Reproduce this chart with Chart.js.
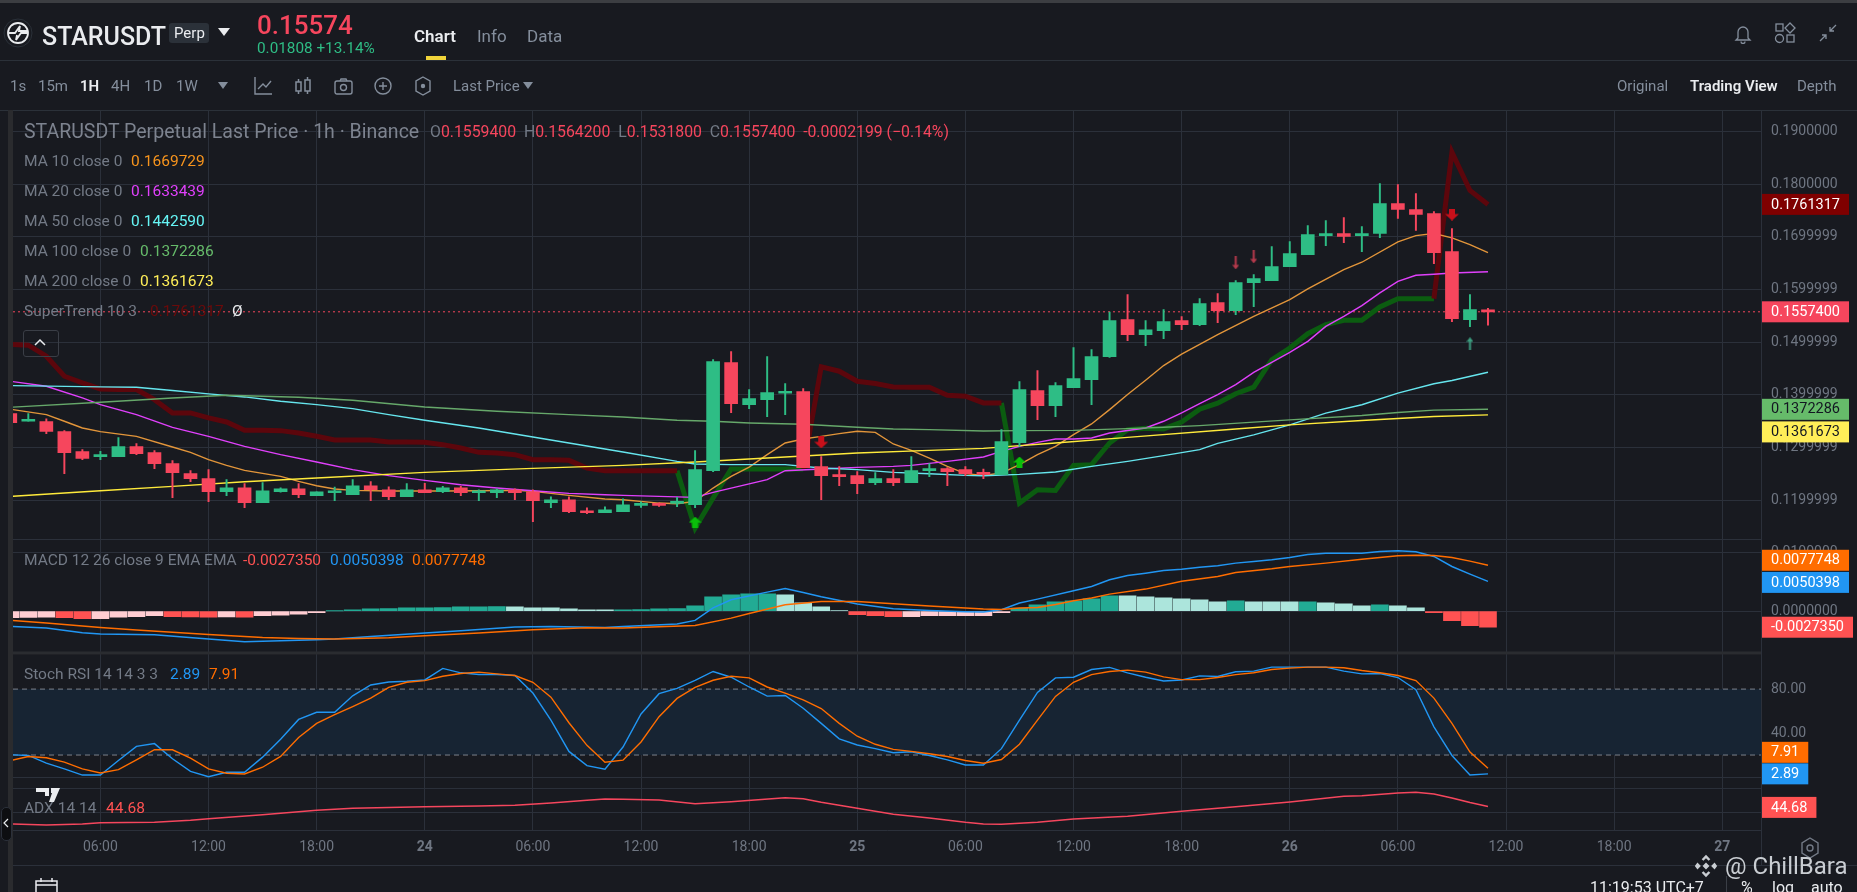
<!DOCTYPE html>
<html>
<head>
<meta charset="utf-8">
<title>STARUSDT Perp</title>
<script src="https://cdn.jsdelivr.net/npm/chart.js@4"></script>
<style>
    html, body { margin: 0; padding: 0; width: 1857px; height: 892px; overflow: hidden; background: #181a20; font-family: Roboto, sans-serif; }
    canvas { position: absolute; left: 0; top: 0; }
    .t { position: absolute; transform: translateY(-50%); white-space: pre; z-index: 3; line-height: 1; }
    .g { color: #848e9c; font-size: 15px; }
    .leg { color: #737a86; font-size: 15.5px; }
    .on { color: #eaecef; font-weight: 600; }
    .line { position: absolute; background: #2b3139; z-index: 1; }
    svg { position: absolute; z-index: 3; }
</style>
</head>
<body>
<canvas id="grafico" width="1857" height="892"></canvas>

<div class="line" style="left:0;top:0;width:1857px;height:3px;background:#3c3e42"></div>
<div class="line" style="left:0;top:60px;width:1857px;height:1px"></div>
<div class="line" style="left:0;top:110px;width:1857px;height:1px"></div>
<div class="line" style="left:8px;top:110px;width:5px;height:782px;background:#2a2b2e"></div>
<div class="line" style="left:13px;top:865px;width:1844px;height:1px;background:#2b303a"></div>
<div class="line" style="left:1761px;top:830px;width:1px;height:35px;background:#2b303a"></div>
<div class="line" style="left:1726px;top:876px;width:1px;height:16px;background:#3a3e46"></div>

<svg style="left:3px;top:18px" width="30" height="30" viewBox="0 0 30 30" fill="none" stroke="#eaecef" stroke-width="1.8"><circle cx="15" cy="15" r="14" stroke="#2b3139" stroke-width="1"/><circle cx="15" cy="15" r="10"/><path d="M6 15h6l5-7-1 5h8M24 15h-6l-5 7 1-5"/></svg>
<div class="t" style="left:42px;top:36px;font-size:25px;font-weight:500;color:#eaecef">STARUSDT</div>
<div class="line" style="left:169px;top:23px;width:40px;height:20px;background:#2b3139;border-radius:3px"></div>
<div class="t" style="left:174px;top:33px;font-size:15px;color:#eaecef">Perp</div>
<svg style="left:218px;top:28px" width="12" height="9"><path d="M0 0h12L6 8z" fill="#eaecef"/></svg>
<div class="t" style="left:257px;top:25px;font-size:26px;font-weight:500;color:#f6465d">0.15574</div>
<div class="t" style="left:257px;top:49px;font-size:15.3px;color:#2ebd85">0.01808 +13.14%</div>
<div class="t on" style="left:414px;top:36px;font-size:17px">Chart</div>
<div class="line" style="left:426px;top:56px;width:20px;height:4px;background:#f0d43a"></div>
<div class="t" style="left:477px;top:36px;font-size:17px;color:#848e9c">Info</div>
<div class="t" style="left:527px;top:36px;font-size:17px;color:#848e9c">Data</div>

<div class="t g" style="left:10px;top:86px">1s</div>
<div class="t g" style="left:38px;top:86px">15m</div>
<div class="t g on" style="left:80px;top:86px">1H</div>
<div class="t g" style="left:111px;top:86px">4H</div>
<div class="t g" style="left:144px;top:86px">1D</div>
<div class="t g" style="left:176px;top:86px">1W</div>
<svg style="left:218px;top:82px" width="10" height="7"><path d="M0 0h10L5 7z" fill="#848e9c"/></svg>
<svg style="left:253px;top:75px" width="20" height="22" fill="none" stroke="#848e9c" stroke-width="1.4"><path d="M2 2v17h17M5 14l5-5 3 3 5-6"/></svg>
<svg style="left:294px;top:76px" width="18" height="20" fill="none" stroke="#848e9c" stroke-width="1.5"><rect x="2" y="6" width="5" height="9"/><rect x="11" y="4" width="5" height="11"/><path d="M4.5 3v3M4.5 15v3M13.5 1v3M13.5 15v3"/></svg>
<svg style="left:334px;top:77px" width="19" height="18" fill="none" stroke="#848e9c" stroke-width="1.4"><rect x="1" y="4" width="17" height="13" rx="2"/><circle cx="9.5" cy="10.5" r="3"/><path d="M6 4l1-2h5l1 2"/></svg>
<svg style="left:374px;top:77px" width="18" height="18" fill="none" stroke="#848e9c" stroke-width="1.4"><circle cx="9" cy="9" r="8"/><path d="M9 5v8M5 9h8"/></svg>
<svg style="left:415px;top:76px" width="16" height="20" fill="none" stroke="#848e9c" stroke-width="1.4"><path d="M8 1l7 4v10l-7 4-7-4V5z"/><circle cx="8" cy="10" r="1.5" fill="#848e9c"/></svg>
<div class="t g" style="left:453px;top:86px">Last Price</div>
<svg style="left:523px;top:82px" width="10" height="7"><path d="M0 0h10L5 7z" fill="#848e9c"/></svg>

<svg style="left:1734px;top:24px" width="18" height="20" fill="none" stroke="#848e9c" stroke-width="1.3"><path d="M4 14V8a5 5 0 0 1 10 0v6l2 2H2zM7 17.500a2 2 0 0 0 4 0"/></svg>
<svg style="left:1774px;top:22px" width="22" height="22" fill="none" stroke="#848e9c" stroke-width="1.3"><rect x="2" y="2" width="7" height="7"/><path d="M16 1l5 5-5 5-5-5z"/><circle cx="5.500" cy="16.500" r="4"/><rect x="13" y="13" width="7" height="7"/></svg>
<svg style="left:1819px;top:24px" width="18" height="18" fill="none" stroke="#848e9c" stroke-width="1.3"><path d="M17 1l-6 6M11 3v4h4M1 17l6-6M7 15v-4H3"/></svg>
<div class="t g" style="left:1617px;top:86px">Original</div>
<div class="t g on" style="left:1690px;top:86px">Trading View</div>
<div class="t g" style="left:1797px;top:86px">Depth</div>

<div class="t leg" style="left:24px;top:132px;font-size:19.5px;color:#7d838f">STARUSDT Perpetual Last Price · 1h · Binance</div>
<div class="t leg" style="left:430px;top:132px;font-size:15.8px">O<span style="color:#f6465d">0.1559400</span>  H<span style="color:#f6465d">0.1564200</span>  L<span style="color:#f6465d">0.1531800</span>  C<span style="color:#f6465d">0.1557400</span>  <span style="color:#f6465d">-0.0002199 (−0.14%)</span></div>
<div class="t leg" style="left:24px;top:162px">MA 10 close 0</div><div class="t leg" style="left:131px;top:162px;color:#f7941d">0.1669729</div>
<div class="t leg" style="left:24px;top:192px">MA 20 close 0</div><div class="t leg" style="left:131px;top:192px;color:#e040fb">0.1633439</div>
<div class="t leg" style="left:24px;top:222px">MA 50 close 0</div><div class="t leg" style="left:131px;top:222px;color:#66f5f5">0.1442590</div>
<div class="t leg" style="left:24px;top:252px">MA 100 close 0</div><div class="t leg" style="left:140px;top:252px;color:#66bb6a">0.1372286</div>
<div class="t leg" style="left:24px;top:282px">MA 200 close 0</div><div class="t leg" style="left:140px;top:282px;color:#ffee58">0.1361673</div>
<div class="t leg" style="left:24px;top:312px">SuperTrend 10 3</div><div class="t leg" style="left:150px;top:312px;color:#6b0a0a">0.1761317</div><div class="t leg" style="left:232px;top:312px;color:#eaecef">Ø</div>
<div style="position:absolute;left:23px;top:330px;width:34px;height:25px;border:1px solid #3a3e46;border-radius:3px;z-index:3"></div>
<svg style="left:34px;top:338px" width="12" height="8" fill="none" stroke="#eaecef" stroke-width="1.5"><path d="M1 7l5-5 5 5"/></svg>

<div class="t leg" style="left:24px;top:561px;font-size:15.5px">MACD 12 26 close 9 EMA EMA</div>
<div class="t leg" style="left:243px;top:561px;color:#ff5252">-0.0027350</div>
<div class="t leg" style="left:330px;top:561px;color:#2196f3">0.0050398</div>
<div class="t leg" style="left:412px;top:561px;color:#ff6d00">0.0077748</div>
<div class="t leg" style="left:24px;top:675px">Stoch RSI 14 14 3 3</div>
<div class="t leg" style="left:170px;top:675px;color:#2196f3">2.89</div>
<div class="t leg" style="left:209px;top:675px;color:#ff6d00">7.91</div>
<svg style="left:27px;top:780px;z-index:2" width="44" height="24" fill="#eaecef"><path d="M9 8h13v8h-4v-4H9zM24 8h9l-6 14h-5l3-9h-1z"/></svg>
<div class="t leg" style="left:24px;top:809px">ADX 14 14</div>
<div class="t leg" style="left:106px;top:809px;color:#ff5252">44.68</div>
<div style="position:absolute;left:1px;top:807px;width:9px;height:32px;background:#0d0e11;border:1px solid #2b303a;border-radius:5px;z-index:3"></div>
<svg style="left:3px;top:818px" width="6" height="10" fill="none" stroke="#eaecef" stroke-width="1.2"><path d="M5 1L1 5l4 4"/></svg>
<svg style="left:35px;top:877px" width="23" height="15" fill="none" stroke="#eaecef" stroke-width="1.5"><path d="M1 22V4h21v18M1 8h21M6 1v4M17 1v4"/></svg>
<svg style="left:1800px;top:837px" width="20" height="22" fill="none" stroke="#737a86" stroke-width="1.4"><path d="M10 1l8 5v10l-8 5-8-5V6z"/><circle cx="10" cy="11" r="3"/></svg>

<svg style="left:1694px;top:854px" width="24" height="24" viewBox="0 0 28 28" fill="#c9cdd2"><path d="M14 1l5 5-2 2-3-3-3 3-2-2zM14 27l5-5-2-2-3 3-3-3-2 2zM4 10l4 4-4 4-3-4zM24 10l3 4-3 4-4-4zM14 10l4 4-4 4-4-4z"/></svg>
<div class="t" style="left:1725px;top:866px;font-size:24px;color:#c9cdd2">@ ChillBara</div>
<div class="t" style="left:1590px;top:888px;font-size:16px;color:#eaecef">11:19:53 UTC+7</div>
<div class="t" style="left:1741px;top:888px;font-size:16px;color:#eaecef">%</div>
<div class="t" style="left:1772px;top:888px;font-size:16px;color:#eaecef">log</div>
<div class="t" style="left:1811px;top:888px;font-size:16px;color:#eaecef">auto</div>

<script>
// candles, one per hour, hour 1 = 01:00 on the 23rd
const candleOpen = [
    0.13641, 0.13496, 0.13489, 0.13299, 0.12919, 0.12824, 0.12824, 0.13014, 0.12900, 0.12691,
    0.12501, 0.12406, 0.12158, 0.12234, 0.11949, 0.12158, 0.12215, 0.12082, 0.12139, 0.12101,
    0.12272, 0.12196, 0.12063, 0.12196, 0.12158, 0.12234, 0.12139, 0.12139, 0.12196, 0.12158,
    0.11949, 0.12006, 0.11797, 0.11759, 0.11778, 0.11899, 0.11937, 0.11937, 0.11911, 0.12558,
    0.14611, 0.13812, 0.13907, 0.14028, 0.14060, 0.12634, 0.12482, 0.12463, 0.12330, 0.12406,
    0.12330, 0.12558, 0.12596, 0.12577, 0.12513, 0.12482, 0.13090, 0.14079, 0.13793, 0.14136,
    0.14288, 0.14721, 0.15425, 0.15139, 0.15215, 0.15406, 0.15330, 0.15748, 0.15596, 0.16128,
    0.16166, 0.16432, 0.16660, 0.17021, 0.17060, 0.17021, 0.17060, 0.17630, 0.17516, 0.17440,
    0.16717, 0.15425, 0.15594
];
const candleClose = [
    0.13470, 0.13515, 0.13305, 0.12900, 0.12792, 0.12843, 0.13014, 0.12881, 0.12691, 0.12520,
    0.12406, 0.12158, 0.12234, 0.11949, 0.12177, 0.12215, 0.12101, 0.12158, 0.12158, 0.12272,
    0.12196, 0.12063, 0.12196, 0.12139, 0.12234, 0.12139, 0.12158, 0.12196, 0.12139, 0.11987,
    0.12006, 0.11778, 0.11759, 0.11816, 0.11911, 0.11911, 0.11899, 0.11949, 0.12577, 0.14630,
    0.13831, 0.13926, 0.14041, 0.14041, 0.12615, 0.12463, 0.12444, 0.12311, 0.12406, 0.12330,
    0.12558, 0.12577, 0.12539, 0.12501, 0.12488, 0.13109, 0.14098, 0.13793, 0.14174, 0.14307,
    0.14725, 0.15406, 0.15139, 0.15234, 0.15387, 0.15330, 0.15729, 0.15596, 0.16128, 0.16204,
    0.16432, 0.16679, 0.17041, 0.17060, 0.17003, 0.17060, 0.17630, 0.17516, 0.17421, 0.16698,
    0.15444, 0.15615, 0.15574
];
const candleHigh = [
    0.13641, 0.13641, 0.13540, 0.13318, 0.12957, 0.12925, 0.13185, 0.13071, 0.12938, 0.12748,
    0.12558, 0.12577, 0.12387, 0.12311, 0.12330, 0.12234, 0.12311, 0.12158, 0.12247, 0.12387,
    0.12349, 0.12253, 0.12311, 0.12317, 0.12260, 0.12260, 0.12196, 0.12215, 0.12215, 0.12196,
    0.12063, 0.12063, 0.11854, 0.11873, 0.12025, 0.11968, 0.11949, 0.12051, 0.12938, 0.14668,
    0.14820, 0.14098, 0.14725, 0.14212, 0.14117, 0.12824, 0.12634, 0.12539, 0.12520, 0.12577,
    0.12824, 0.12691, 0.12615, 0.12634, 0.12589, 0.13337, 0.14250, 0.14459, 0.14231, 0.14896,
    0.14858, 0.15570, 0.15900, 0.15406, 0.15615, 0.15482, 0.15824, 0.15919, 0.16166, 0.16280,
    0.16812, 0.16907, 0.17212, 0.17307, 0.17364, 0.17193, 0.18010, 0.17991, 0.17820, 0.17478,
    0.17155, 0.15900, 0.15642
];
const candleLow = [
    0.13470, 0.13496, 0.13261, 0.12501, 0.12767, 0.12767, 0.12824, 0.12862, 0.12596, 0.12044,
    0.12349, 0.11968, 0.12082, 0.11854, 0.11949, 0.12152, 0.12044, 0.12082, 0.11987, 0.12101,
    0.11987, 0.12006, 0.12063, 0.12139, 0.12139, 0.12082, 0.11987, 0.12044, 0.12006, 0.11588,
    0.11854, 0.11759, 0.11740, 0.11759, 0.11778, 0.11861, 0.11880, 0.11873, 0.11854, 0.12539,
    0.13660, 0.13736, 0.13584, 0.13622, 0.12615, 0.12006, 0.12272, 0.12120, 0.12292, 0.12272,
    0.12330, 0.12444, 0.12272, 0.12463, 0.12406, 0.12482, 0.13020, 0.13527, 0.13584, 0.14136,
    0.13812, 0.14708, 0.15025, 0.14930, 0.15063, 0.15234, 0.15311, 0.15368, 0.15520, 0.15672,
    0.16166, 0.16432, 0.16660, 0.16831, 0.16888, 0.16717, 0.16983, 0.17345, 0.17117, 0.16489,
    0.15387, 0.15292, 0.15318
];

// moving averages, read at the hours listed next to each one
const ma10Hours = [1, 3, 4, 5, 6, 8, 10, 11, 12, 13, 14, 16, 17, 18, 19, 20, 22, 25, 27, 29, 30, 32, 34, 35, 37, 38, 39, 40, 41, 42, 43, 44, 45, 46, 47, 48, 49, 50, 51, 52, 53, 54, 55, 56, 57, 58, 59, 60, 61, 62, 63, 64, 65, 66, 68, 70, 72, 73, 75, 76, 78, 79, 80, 81, 82, 83];
const ma10 = [0.13724, 0.13622, 0.13496, 0.13369, 0.13299, 0.13210, 0.13008, 0.12906, 0.12767, 0.12659, 0.12564, 0.12450, 0.12355, 0.12272, 0.12209, 0.12184, 0.12171, 0.12171, 0.12177, 0.12184, 0.12165, 0.12089, 0.12019, 0.12006, 0.11943, 0.11930, 0.11975, 0.12228, 0.12450, 0.12627, 0.12862, 0.13084, 0.13160, 0.13210, 0.13261, 0.13305, 0.13286, 0.13065, 0.12944, 0.12798, 0.12640, 0.12501, 0.12469, 0.12513, 0.12672, 0.12862, 0.13020, 0.13242, 0.13445, 0.13717, 0.14003, 0.14275, 0.14554, 0.14770, 0.15139, 0.15488, 0.15805, 0.16008, 0.16375, 0.16515, 0.16901, 0.17021, 0.17060, 0.16977, 0.16850, 0.16697];
const ma20Hours = [1, 3, 5, 6, 8, 10, 12, 14, 16, 18, 20, 22, 24, 26, 28, 30, 32, 34, 35, 39, 40, 41, 43, 44, 46, 48, 50, 51, 53, 55, 56, 57, 58, 59, 60, 61, 62, 64, 65, 66, 67, 68, 69, 70, 72, 73, 74, 75, 76, 77, 78, 79, 80, 81, 83];
const ma20 = [0.14256, 0.14161, 0.13939, 0.13812, 0.13622, 0.13381, 0.13210, 0.13020, 0.12862, 0.12722, 0.12577, 0.12463, 0.12374, 0.12292, 0.12228, 0.12177, 0.12127, 0.12101, 0.12089, 0.12051, 0.12146, 0.12228, 0.12387, 0.12558, 0.12589, 0.12621, 0.12640, 0.12659, 0.12735, 0.12817, 0.12925, 0.13020, 0.13096, 0.13160, 0.13160, 0.13179, 0.13274, 0.13369, 0.13496, 0.13654, 0.13831, 0.14003, 0.14193, 0.14423, 0.14804, 0.15013, 0.15298, 0.15488, 0.15691, 0.15932, 0.16153, 0.16267, 0.16286, 0.16312, 0.16334];
const ma50Hours = [1, 6, 8, 10, 12, 14, 16, 18, 20, 22, 24, 27, 30, 32, 35, 38, 39, 41, 44, 46, 48, 50, 52, 54, 55, 57, 59, 61, 63, 65, 67, 68, 70, 72, 74, 76, 78, 80, 81, 83];
const ma50 = [0.14174, 0.14148, 0.14142, 0.14079, 0.14015, 0.13958, 0.13876, 0.13812, 0.13736, 0.13622, 0.13515, 0.13369, 0.13198, 0.13084, 0.12913, 0.12735, 0.12684, 0.12672, 0.12672, 0.12608, 0.12577, 0.12526, 0.12501, 0.12469, 0.12463, 0.12488, 0.12532, 0.12640, 0.12735, 0.12843, 0.12957, 0.13075, 0.13238, 0.13428, 0.13650, 0.13809, 0.14030, 0.14208, 0.14271, 0.14426];
const ma100Hours = [1, 6, 10, 13, 17, 20, 24, 28, 32, 35, 38, 40, 42, 45, 48, 50, 52, 55, 57, 60, 63, 65, 67, 70, 72, 76, 78, 80, 83];
const ma100 = [0.13762, 0.13857, 0.13939, 0.13990, 0.13952, 0.13895, 0.13768, 0.13686, 0.13622, 0.13578, 0.13515, 0.13496, 0.13464, 0.13438, 0.13381, 0.13350, 0.13337, 0.13312, 0.13318, 0.13324, 0.13356, 0.13381, 0.13413, 0.13479, 0.13523, 0.13606, 0.13663, 0.13707, 0.13723];
const ma200Hours = [1, 6, 10, 14, 18, 24, 30, 35, 39, 43, 48, 52, 55, 59, 63, 69, 72, 76, 78, 80, 83];
const ma200 = [0.12070, 0.12177, 0.12260, 0.12349, 0.12418, 0.12526, 0.12602, 0.12659, 0.12722, 0.12798, 0.12894, 0.12944, 0.12982, 0.13084, 0.13191, 0.13350, 0.13428, 0.13511, 0.13549, 0.13587, 0.13617];

// supertrend, down side and up side, null where the other side is drawn
const trendDown = [
    0.14953, 0.14940, 0.14731, 0.14351, 0.14224, 0.14110, 0.14098, 0.14098, 0.13907, 0.13654,
    0.13654, 0.13559, 0.13483, 0.13324, 0.13324, 0.13318, 0.13274, 0.13210, 0.13141, 0.13141,
    0.13141, 0.13103, 0.13103, 0.13096, 0.13052, 0.12989, 0.12906, 0.12894, 0.12862, 0.12767,
    0.12767, 0.12754, 0.12608, 0.12558, 0.12558, 0.12558, 0.12558, 0.12558, null, null,
    null, null, null, null, 0.12589, 0.14528, 0.14446, 0.14256, 0.14212, 0.14148,
    0.14142, 0.14142, 0.13990, 0.13971, 0.13844, 0.13844, null, null, null, null,
    null, null, null, null, null, null, null, null, null, null,
    null, null, null, null, null, null, null, null, null, 0.15824,
    0.18606, 0.17877, 0.17613
];
const trendUp = [
    null, null, null, null, null, null, null, null, null, null,
    null, null, null, null, null, null, null, null, null, null,
    null, null, null, null, null, null, null, null, null, null,
    null, null, null, null, null, null, null, 0.12558, 0.11468, 0.12038,
    0.12589, 0.12589, 0.12589, 0.12589, 0.12589, null, null, null, null, null,
    null, null, null, null, null, 0.13844, 0.11943, 0.12196, 0.12184, 0.12659,
    0.12672, 0.13084, 0.13337, 0.13362, 0.13350, 0.13480, 0.13726, 0.13840, 0.14018, 0.14145,
    0.14664, 0.14886, 0.15158, 0.15330, 0.15412, 0.15412, 0.15665, 0.15824, 0.15824, 0.15824,
    null, null, null
];
const bigUpHours = [39, 57];
const bigUpValues = [0.11582, 0.12722];
const bigDownHours = [46, 81];
const bigDownValues = [0.13096, 0.17421];
const smallDownHours = [69, 70];
const smallDownValues = [0.16502, 0.16616];
const smallUpHours = [82];
const smallUpValues = [0.14968];
const lastPrice = 0.15574;

// MACD
const macdHist = [
    -0.00110, -0.00107, -0.00102, -0.00113, -0.00130, -0.00128, -0.00102, -0.00096, -0.00079, -0.00096,
    -0.00098, -0.00102, -0.00100, -0.00101, -0.00079, -0.00068, -0.00051, -0.00028, 0.00003, 0.00023,
    0.00040, 0.00041, 0.00056, 0.00057, 0.00058, 0.00073, 0.00074, 0.00075, 0.00073, 0.00056,
    0.00055, 0.00040, 0.00023, 0.00022, 0.00023, 0.00024, 0.00040, 0.00041, 0.00090, 0.00243,
    0.00277, 0.00294, 0.00295, 0.00277, 0.00141, 0.00073, 0.00006, -0.00062, -0.00079, -0.00096,
    -0.00095, -0.00079, -0.00078, -0.00077, -0.00076, -0.00028, 0.00051, 0.00107, 0.00158, 0.00175,
    0.00209, 0.00260, 0.00259, 0.00243, 0.00226, 0.00209, 0.00192, 0.00158, 0.00175, 0.00158,
    0.00157, 0.00156, 0.00158, 0.00141, 0.00124, 0.00090, 0.00107, 0.00090, 0.00056, -0.00028,
    -0.00164, -0.00249, -0.00273
];
const difHours = [1, 3, 5, 6, 9, 12, 14, 18, 19, 21, 24, 26, 29, 31, 34, 35, 38, 39, 40, 41, 43, 44, 45, 46, 48, 50, 52, 54, 55, 56, 57, 58, 60, 61, 62, 63, 64, 65, 66, 67, 68, 69, 70, 71, 72, 73, 74, 76, 77, 78, 79, 80, 81, 82, 83];
const dif = [-0.0026, -0.00288, -0.00367, -0.0039, -0.00401, -0.00475, -0.0052, -0.00486, -0.00475, -0.00429, -0.00373, -0.00333, -0.00271, -0.0026, -0.00277, -0.0026, -0.0022, -0.00158, 0.00056, 0.00192, 0.00322, 0.00384, 0.00316, 0.00243, 0.00119, 0.0004, 0.00011, -0.00011, -0.00017, 0.00023, 0.00136, 0.00203, 0.00345, 0.00418, 0.00531, 0.00605, 0.00644, 0.00689, 0.00712, 0.00746, 0.00768, 0.00814, 0.00842, 0.0087, 0.0091, 0.00961, 0.00983, 0.00983, 0.01011, 0.01023, 0.01006, 0.00927, 0.00757, 0.00627, 0.00504];
const deaHours = [1, 3, 6, 8, 12, 15, 17, 19, 22, 24, 27, 30, 33, 35, 39, 41, 42, 44, 46, 48, 50, 52, 54, 55, 56, 57, 58, 59, 60, 61, 62, 64, 66, 68, 69, 71, 72, 74, 76, 78, 79, 80, 81, 82, 83];
const dea = [-0.00158, -0.00203, -0.00277, -0.00322, -0.00395, -0.00446, -0.00463, -0.00475, -0.00452, -0.00418, -0.00373, -0.00316, -0.00282, -0.00288, -0.00243, -0.00119, -0.0004, 0.00107, 0.00164, 0.00164, 0.00124, 0.00085, 0.00051, 0.00034, 0.00028, 0.00051, 0.00062, 0.00113, 0.00175, 0.00221, 0.00288, 0.00373, 0.00508, 0.00588, 0.00655, 0.00718, 0.00757, 0.00814, 0.00881, 0.00938, 0.00949, 0.00944, 0.0091, 0.00848, 0.00777];

// Stoch RSI, one per hour
const stochK = [
    20.2, 19.6, 12.6, 7.4, 1.8, 1.8, 15.0, 27.9, 30.4, 16.6,
    5.2, 0.3, 4.3, 4.3, 18.1, 34.4, 52.4, 58.9, 58.9, 73.9,
    83.7, 86.5, 87.1, 88.3, 98.8, 94.8, 93.2, 93.2, 92.3, 76.4,
    51.8, 23.3, 10.4, 7.1, 27.3, 57.4, 75.8, 80.7, 88.0, 96.0,
    90.8, 81.9, 73.6, 74.2, 62.6, 48.8, 34.7, 29.1, 25.8, 22.1,
    23.0, 19.6, 15.6, 11.0, 11.0, 25.8, 51.8, 77.0, 90.2, 90.8,
    97.8, 99.7, 94.8, 90.8, 87.4, 88.3, 92.0, 91.4, 95.7, 96.3,
    100, 100, 100, 100, 96.3, 93.8, 94.2, 90.5, 79.4, 45.7,
    19.6, 1.8, 2.89
];
const stochD = [
    15.0, 18.7, 17.5, 13.5, 7.4, 3.7, 6.7, 15.6, 24.8, 24.8,
    17.2, 7.4, 3.4, 2.8, 8.9, 18.7, 35.9, 48.8, 56.7, 64.1,
    71.8, 81.6, 86.2, 87.7, 91.7, 94.2, 95.4, 93.8, 92.3, 86.2,
    72.7, 49.4, 28.8, 13.5, 15.3, 31.9, 54.9, 71.5, 81.6, 88.0,
    91.7, 90.2, 81.9, 76.4, 70.2, 62.3, 48.8, 37.1, 29.8, 25.1,
    23.3, 21.2, 18.7, 15.0, 12.6, 15.9, 29.8, 51.8, 73.3, 86.2,
    93.2, 96.0, 97.2, 95.4, 91.1, 88.6, 88.6, 90.5, 93.2, 94.8,
    97.8, 99.1, 100, 100, 99.4, 96.9, 94.8, 92.3, 87.7, 71.8,
    48.8, 22.7, 7.91
];

// ADX
const adxHours = [1, 3, 5, 6, 9, 11, 12, 15, 18, 20, 24, 27, 29, 31, 33, 34, 35, 37, 39, 41, 44, 45, 46, 47, 48, 50, 52, 54, 55, 56, 58, 60, 63, 66, 69, 72, 75, 76, 78, 79, 80, 81, 82, 83];
const adx = [30, 29.2, 30, 31.1, 31.4, 33.1, 34.4, 37.8, 41.4, 43.1, 44.4, 45, 45.6, 47.5, 49.7, 50.8, 50.6, 50, 46.9, 48.6, 51.9, 51.1, 48.1, 45.6, 43.1, 38.1, 35, 31.4, 30, 29.7, 31.4, 34.2, 36.4, 40.6, 44.4, 48.3, 53.1, 53.6, 55.8, 56.4, 55, 51.7, 48, 44.68];

// axes
const timeHours = [6, 12, 18, 24, 30, 36, 42, 48, 54, 60, 66, 72, 78, 84, 90, 96];
const timeLabels = ["06:00", "12:00", "18:00", "24", "06:00", "12:00", "18:00", "25", "06:00", "12:00", "18:00", "26", "06:00", "12:00", "18:00", "27"];
const mainTicks = [0.19, 0.18, 0.17, 0.16, 0.15, 0.14, 0.13, 0.12, 0.1126];
const mainLabels = ["0.1900000", "0.1800000", "0.1699999", "0.1599999", "0.1499999", "0.1399999", "0.1299999", "0.1199999", ""];
const macdTicks = [0.01, 0];
const macdLabels = ["0.0100000", "0.0000000"];
const stochTicks = [80, 40, 0];
const stochLabels = ["80.00", "40.00", "0.00"];
const adxTicks = [40];
const adxLabels = ["40.00"];
const stochBand = [80, 20];

const GREEN = "#2ebd85";
const RED = "#f6465d";
const GRID = "#2b303a";
const TICK = "#6f7682";
const hours = candleOpen.map((_, i) => i + 1);

function pairs(xs, ys) {
    return xs.map((x, i) => ({ x: x, y: ys[i] }));
}

function candleColor(i) {
    return candleClose[i] >= candleOpen[i] ? GREEN : RED;
}

function histColor(i) {
    const prev = i > 0 ? macdHist[i - 1] : macdHist[i] - 1;
    if (macdHist[i] >= 0) return macdHist[i] >= prev ? "#22ab94" : "#ace5dc";
    return macdHist[i] < prev ? "#ff5252" : "#ffcdd2";
}

function line(data, color, width, yAxisID, extra) {
    return Object.assign({
        type: "line", data: data, borderColor: color, borderWidth: width, yAxisID: yAxisID,
        pointRadius: 0, tension: 0, fill: false, order: 3, spanGaps: false
    }, extra || {});
}

// little arrow images for the signal marks
function makeArrow(color, up, w, h, stem) {
    const c = document.createElement("canvas");
    c.width = w;
    c.height = h;
    const g = c.getContext("2d");
    g.fillStyle = color;
    if (!up) {
        g.translate(0, h);
        g.scale(1, -1);
    }
    const head = Math.min(h * 0.55, w / 2 + 1);
    g.beginPath();
    g.moveTo(w / 2, 0);
    g.lineTo(w, head);
    g.lineTo(w / 2 + stem / 2, head);
    g.lineTo(w / 2 + stem / 2, h);
    g.lineTo(w / 2 - stem / 2, h);
    g.lineTo(w / 2 - stem / 2, head);
    g.lineTo(0, head);
    g.closePath();
    g.fill();
    return c;
}

function marks(xs, ys, image) {
    return line(pairs(xs, ys), "transparent", 0, "yMain", { showLine: false, pointRadius: 5, pointStyle: image, order: 0 });
}

function stackedY(weight, stackWeight, min, max, values, labels, hideGrid) {
    return {
        type: "linear", position: "right", stack: "panes", stackWeight: stackWeight, weight: weight,
        min: min, max: max,
        afterFit: s => { s.width = 96; },
        afterBuildTicks: s => { s.ticks = values.map(v => ({ value: v })); },
        ticks: {
            autoSkip: false, padding: 10, color: TICK, font: { family: "Roboto", size: 14 },
            callback: v => labels[values.indexOf(v)]
        },
        grid: {
            color: c => (hideGrid && c.tick && hideGrid.includes(c.tick.value) ? "transparent" : GRID),
            drawTicks: false
        },
        border: { color: GRID }
    };
}

const lastTags = [
    { axis: "yMain", value: 0.1761317, text: "0.1761317", bg: "#7f0000", fg: "#ffffff", shift: 0 },
    { axis: "yMain", value: 0.15574, text: "0.1557400", bg: RED, fg: "#ffffff", shift: 0 },
    { axis: "yMain", value: 0.1372286, text: "0.1372286", bg: "#66bb6a", fg: "#131722", shift: 0 },
    { axis: "yMain", value: 0.1361673, text: "0.1361673", bg: "#ffee58", fg: "#131722", shift: 17 },
    { axis: "yMacd", value: 0.0077748, text: "0.0077748", bg: "#ff6d00", fg: "#ffffff", shift: -5 },
    { axis: "yMacd", value: 0.0050398, text: "0.0050398", bg: "#2196f3", fg: "#ffffff", shift: 1 },
    { axis: "yMacd", value: -0.002735, text: "-0.0027350", bg: "#ff5252", fg: "#ffffff", shift: 0 },
    { axis: "yStoch", value: 7.91, text: "7.91", bg: "#ff6d00", fg: "#ffffff", shift: -16 },
    { axis: "yStoch", value: 2.89, text: "2.89", bg: "#2196f3", fg: "#ffffff", shift: 0 },
    { axis: "yAdx", value: 44.68, text: "44.68", bg: "#ff5252", fg: "#ffffff", shift: 1 }
];

const panePlugin = {
    id: "panes",
    beforeDatasetsDraw(chart) {
        const g = chart.ctx;
        g.save();
        g.fillStyle = "#2a2c30";
        g.fillRect(13, chart.scales.yStoch.top - 1, 1748, 3);
        g.fillStyle = GRID;
        g.fillRect(13, chart.scales.yAdx.top, 1748, 1);
        g.restore();
    },
    afterDraw(chart) {
        const g = chart.ctx;
        g.save();
        g.font = "14.5px Roboto";
        g.textBaseline = "middle";
        lastTags.forEach(tag => {
            const y = chart.scales[tag.axis].getPixelForValue(tag.value) + tag.shift;
            const w = g.measureText(tag.text).width + 18;
            g.fillStyle = tag.bg;
            g.fillRect(1762, y - 10.5, w, 21);
            g.fillStyle = tag.fg;
            g.fillText(tag.text, 1771, y + 0.5);
        });
        g.restore();
    }
};

new Chart(document.getElementById("grafico"), {
    type: "bar",
    plugins: [panePlugin],
    data: {
        datasets: [
            // candles on top of the averages
            { data: hours.map(h => ({ x: h, y: [candleOpen[h - 1], candleClose[h - 1]] })), backgroundColor: hours.map((_, i) => candleColor(i)), barThickness: 13, minBarLength: 2, yAxisID: "yMain", grouped: false, order: 1 },
            { data: hours.map(h => ({ x: h, y: [candleLow[h - 1], candleHigh[h - 1]] })), backgroundColor: hours.map((_, i) => candleColor(i)), barThickness: 1.3, yAxisID: "yMain", grouped: false, order: 2 },
            line(pairs(ma200Hours, ma200), "#ffeb3b", 1.4, "yMain"),
            line(pairs(ma100Hours, ma100), "#66a86a", 1.4, "yMain"),
            line(pairs(ma50Hours, ma50), "#66e6ee", 1.4, "yMain"),
            line(pairs(ma20Hours, ma20), "#e040fb", 1.4, "yMain"),
            line(pairs(ma10Hours, ma10), "#e2953a", 1.4, "yMain"),
            line(pairs(hours, trendDown), "#5c060c", 5, "yMain", { order: 4 }),
            line(pairs(hours, trendUp), "#0b5c10", 5, "yMain", { order: 4 }),
            line([{ x: 1.15, y: lastPrice }, { x: 98.15, y: lastPrice }], RED, 1, "yMain", { borderDash: [2, 3], order: 5 }),
            marks(bigUpHours, bigUpValues, makeArrow("#0abf0a", true, 13, 11, 6)),
            marks(bigDownHours, bigDownValues, makeArrow("#c8101a", false, 14, 12, 6)),
            marks(smallDownHours, smallDownValues, makeArrow("#b53a4c", false, 7, 13, 2)),
            marks(smallUpHours, smallUpValues, makeArrow("#3d9e80", true, 7, 13, 2)),

            { data: hours.map(h => ({ x: h, y: macdHist[h - 1] })), backgroundColor: hours.map((_, i) => histColor(i)), barThickness: 17, yAxisID: "yMacd", grouped: false, order: 6 },
            line(pairs(difHours, dif), "#2196f3", 1.5, "yMacd"),
            line(pairs(deaHours, dea), "#ff6d00", 1.5, "yMacd", { order: 2 }),

            line([{ x: 1.15, y: stochBand[0] }, { x: 98.15, y: stochBand[0] }], "rgba(190,195,205,0.6)", 1, "yStoch", { borderDash: [5, 4], fill: { value: stochBand[1] }, backgroundColor: "#172433", order: 8 }),
            line([{ x: 1.15, y: stochBand[1] }, { x: 98.15, y: stochBand[1] }], "rgba(190,195,205,0.6)", 1, "yStoch", { borderDash: [5, 4], order: 7 }),
            line(pairs(hours, stochK), "#2196f3", 1.4, "yStoch"),
            line(pairs(hours, stochD), "#ff6d00", 1.4, "yStoch", { order: 2 }),

            line(pairs(adxHours, adx), "#f6465d", 1.5, "yAdx")
        ]
    },
    options: {
        responsive: false,
        animation: false,
        devicePixelRatio: 1,
        layout: { padding: { left: 13, top: 110, right: 0, bottom: 27 } },
        plugins: { legend: { display: false }, tooltip: { enabled: false } },
        scales: {
            x: {
                type: "linear", min: 1.15, max: 98.15, offset: false,
                afterFit: s => { s.height = 35; },
                afterBuildTicks: s => { s.ticks = timeHours.map(v => ({ value: v })); },
                ticks: {
                    autoSkip: false, maxRotation: 0, padding: 9, color: TICK,
                    font: c => ({ family: "Roboto", size: 14, weight: c.tick && timeLabels[timeHours.indexOf(c.tick.value)].length === 2 ? "bold" : "normal" }),
                    callback: v => timeLabels[timeHours.indexOf(v)]
                },
                grid: { color: GRID, drawTicks: false, offset: false },
                border: { color: GRID }
            },
            yMain: stackedY(1, 439.4, 0.11067, 0.19405, mainTicks, mainLabels),
            yMacd: stackedY(2, 103.3, -0.00702, 0.0105, macdTicks, macdLabels),
            yStoch: stackedY(3, 135.6, -10, 113.3, stochTicks, stochLabels, [80]),
            yAdx: stackedY(4, 42, 25, 60, adxTicks, adxLabels)
        }
    }
});
</script>
</body>
</html>
